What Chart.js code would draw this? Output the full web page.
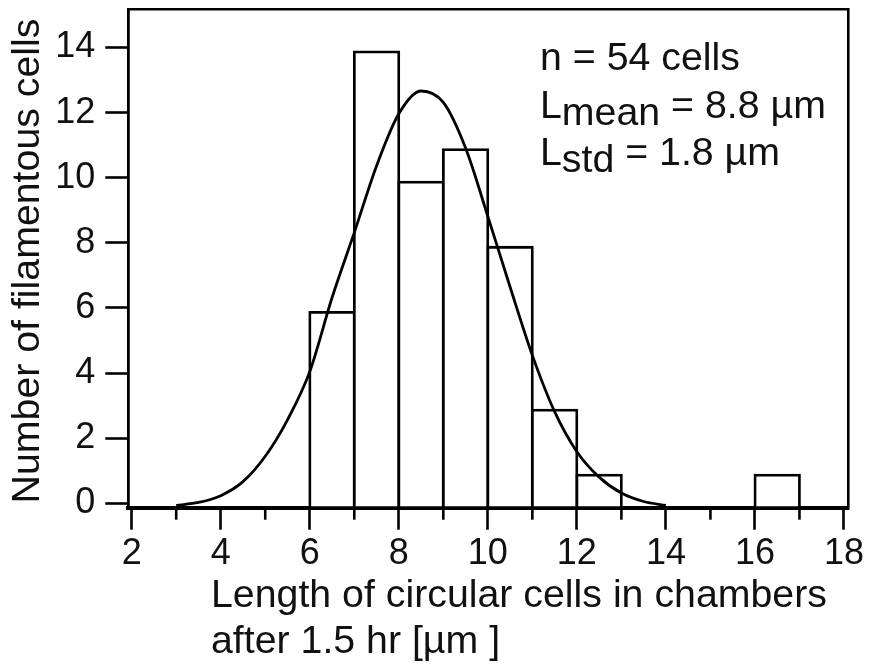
<!DOCTYPE html>
<html>
<head>
<meta charset="utf-8">
<script src="https://cdn.jsdelivr.net/npm/chart.js@4/dist/chart.umd.min.js"></script>
<style>
  html, body { margin: 0; padding: 0; background: #fff; }
  canvas { display: block; }
</style>
</head>
<body>
<canvas id="hist" width="875" height="664"></canvas>
<script>
// Histogram: 1-µm bins, left edge of each bin and the number of cells in it
const binStarts = [6, 7, 8, 9, 10, 11, 12, 16];
const binCounts = [6, 14, 10, 11, 8, 3, 1, 1];
const binWidth = 1;

// Normal fit to the length distribution, sampled every 0.5 µm
const fitX = [3, 3.5, 4, 4.5, 5, 5.5, 6, 6.5, 7, 7.5, 8, 8.5, 9, 9.5, 10, 10.5, 11, 11.5, 12, 12.5, 13, 13.5, 14];
const fitY = [0.07, 0.16, 0.37, 0.80, 1.58, 2.70, 4.18, 6.45, 8.45, 10.5, 12.1, 12.8, 12.45, 11.05, 8.95, 6.78, 4.68, 2.95, 1.72, 0.94, 0.45, 0.19, 0.07];

// Axis ticks
const xTickValues = [2, 4, 6, 8, 10, 12, 14, 16, 18];
const xMinorTickValues = [3, 5, 7, 9, 11, 13, 15, 17];
const yTickValues = [0, 2, 4, 6, 8, 10, 12, 14];

// Labels
const xTitleLines = ['Length of circular cells in chambers', 'after 1.5 hr [µm ]'];
const yTitle = 'Number of filamentous cells';
const statLines = [
  { main: 'n = 54 cells', sub: '', rest: '' },
  { main: 'L', sub: 'mean', rest: ' = 8.8 µm' },
  { main: 'L', sub: 'std', rest: ' = 1.8 µm' }
];

const ink = '#111';
const family = '"Liberation Sans", Arial, Helvetica, sans-serif';
const tickFontSize = 36;
const titleFontSize = 39.3;

Chart.defaults.font.family = family;
Chart.defaults.color = ink;

const barPoints = binStarts.map((s, i) => ({ x: s + binWidth / 2, y: binCounts[i] }));
const fitPoints = fitX.map((x, i) => ({ x: x, y: fitY[i] }));

// Scales keep the plot box fixed: no extra room reserved for edge labels
function fixBox(size, key) {
  return s => {
    s[key] = size;
    s.paddingTop = 0; s.paddingBottom = 0; s.paddingLeft = 0; s.paddingRight = 0;
  };
}

// Frame top/right edges, minor x ticks, titles and the statistics block
const decorations = {
  id: 'decorations',
  afterDraw(chart) {
    const ctx = chart.ctx;
    const a = chart.chartArea;
    const xs = chart.scales.x;
    ctx.save();

    ctx.strokeStyle = '#000';
    ctx.lineWidth = 2.6;
    ctx.beginPath();
    ctx.moveTo(a.left - 1.3, a.top);
    ctx.lineTo(a.right, a.top);
    ctx.lineTo(a.right, a.bottom + 2);
    ctx.stroke();

    xMinorTickValues.forEach(v => {
      const px = xs.getPixelForValue(v);
      ctx.beginPath();
      ctx.moveTo(px, a.bottom);
      ctx.lineTo(px, a.bottom + 12);
      ctx.stroke();
    });

    ctx.fillStyle = ink;
    ctx.font = titleFontSize + 'px ' + family;

    // y-axis title
    ctx.save();
    ctx.translate(28.2, 261);
    ctx.rotate(-Math.PI / 2);
    ctx.textAlign = 'center';
    ctx.textBaseline = 'middle';
    ctx.fillText(yTitle, 0, 0);
    ctx.restore();

    // x-axis title, two left-aligned lines
    ctx.textAlign = 'left';
    ctx.textBaseline = 'alphabetic';
    xTitleLines.forEach((line, i) => {
      ctx.fillText(line, 211, 607 + i * 46);
    });

    // statistics
    statLines.forEach((s, i) => {
      const y = 70 + i * 47.5;
      let x = 540;
      ctx.fillText(s.main, x, y);
      x += ctx.measureText(s.main).width;
      if (s.sub) {
        ctx.fillText(s.sub, x, y + 7);
        x += ctx.measureText(s.sub).width;
      }
      if (s.rest) ctx.fillText(s.rest, x, y);
    });

    ctx.restore();
  }
};

new Chart(document.getElementById('hist'), {
  type: 'bar',
  data: {
    datasets: [
      {
        type: 'line',
        data: fitPoints,
        xAxisID: 'x',
        yAxisID: 'y',
        borderColor: '#000',
        borderWidth: 2.8,
        pointRadius: 0,
        cubicInterpolationMode: 'monotone',
        fill: false,
        order: 0
      },
      {
        type: 'bar',
        data: barPoints,
        xAxisID: 'x',
        yAxisID: 'y',
        backgroundColor: '#fff',
        borderColor: '#000',
        borderWidth: 2.8,
        borderSkipped: false,
        inflateAmount: 1.4,
        categoryPercentage: 1,
        barPercentage: 1,
        order: 1
      }
    ]
  },
  options: {
    responsive: false,
    animation: false,
    events: [],
    layout: { padding: { left: 0, top: 9.3, right: 26.7, bottom: 0 } },
    plugins: { legend: { display: false }, tooltip: { enabled: false } },
    scales: {
      x: {
        type: 'linear',
        position: 'bottom',
        min: 1.924,
        max: 18.097,
        offset: false,
        afterBuildTicks: s => { s.ticks = xTickValues.map(v => ({ value: v })); },
        afterFit: fixBox(156.3, 'height'),
        ticks: { font: { size: tickFontSize }, color: ink, padding: 3, maxRotation: 0, autoSkip: false },
        grid: { offset: false, drawOnChartArea: false, drawTicks: true, tickLength: 22, tickWidth: 2.6, tickColor: '#000' },
        border: { display: true, width: 4, color: '#000' }
      },
      y: {
        type: 'linear',
        display: false,
        min: 0,
        max: 15.31
      },
      yAxis: {
        type: 'linear',
        position: 'left',
        min: -0.135,
        max: 15.175,
        afterBuildTicks: s => { s.ticks = yTickValues.map(v => ({ value: v })); },
        afterFit: fixBox(128.3, 'width'),
        ticks: { font: { size: tickFontSize }, color: ink, padding: 10 },
        grid: { drawOnChartArea: false, drawTicks: true, tickLength: 23, tickWidth: 2.6, tickColor: '#000' },
        border: { display: true, width: 2.8, color: '#000' }
      }
    }
  },
  plugins: [decorations]
});
</script>
</body>
</html>
